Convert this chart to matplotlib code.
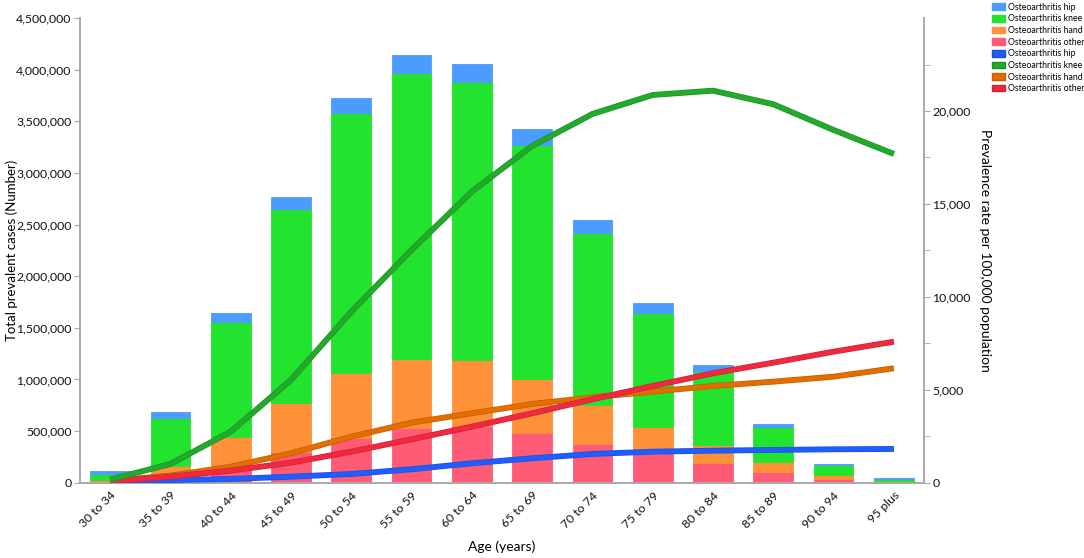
import matplotlib
matplotlib.use("Agg")
import matplotlib.pyplot as plt
import matplotlib.patheffects as pe
from matplotlib.patches import Patch
from matplotlib.ticker import FuncFormatter, MultipleLocator
import numpy as np

plt.rcParams['font.family'] = ['Lato', 'DejaVu Sans']

ages = ['30 to 34', '35 to 39', '40 to 44', '45 to 49', '50 to 54', '55 to 59', '60 to 64',
        '65 to 69', '70 to 74', '75 to 79', '80 to 84', '85 to 89', '90 to 94', '95 plus']

# total prevalent cases (stacked bars)
cases_other = [10000, 50000, 165000, 300000, 436000, 527000, 549000, 479000, 375000, 290000, 188000, 104000, 39000, 9000]
cases_hand = [20000, 115000, 275000, 469000, 624000, 671000, 640000, 526000, 378000, 247000, 177000, 94000, 33000, 7000]
cases_knee = [55000, 459000, 1120000, 1880000, 2519000, 2774000, 2690000, 2264000, 1669000, 1110000, 717000, 345000, 97000, 24000]
cases_hip = [25000, 58000, 81000, 116000, 145000, 172000, 177000, 158000, 123000, 91000, 58000, 26000, 12000, 3000]

# prevalence rate per 100,000 (lines)
rate_hip = [30, 145, 200, 323, 468, 721, 1044, 1313, 1545, 1668, 1722, 1760, 1797, 1813]
rate_knee = [170, 1006, 2745, 5527, 9203, 12524, 15662, 18121, 19843, 20866, 21098, 20366, 18982, 17690]
rate_hand = [100, 380, 861, 1582, 2476, 3229, 3735, 4235, 4594, 4900, 5204, 5436, 5705, 6157]
rate_other = [80, 323, 646, 1076, 1668, 2335, 3014, 3735, 4488, 5204, 5888, 6458, 7050, 7589]

bar_colors = {'hip': '#4c9bff', 'knee': '#22e32e', 'hand': '#ff9139', 'other': '#ff5b76'}
line_colors = {'hip': '#1f5dff', 'knee': '#22aa2a', 'hand': '#e26e00', 'other': '#f0293f'}
line_edges = {'hip': '#1a4fd6', 'knee': '#1c8f23', 'hand': '#c25e00', 'other': '#cc2236'}

fig = plt.figure(figsize=(10.84, 5.58), dpi=100)
ax = fig.add_axes([0.0738, 0.135, 0.7786, 0.8325])
ax2 = ax.twinx()

x = np.arange(len(ages))
w = 0.66
bottom = np.zeros(len(ages))
for key, vals in [('other', cases_other), ('hand', cases_hand), ('knee', cases_knee), ('hip', cases_hip)]:
    ax.bar(x, vals, w, bottom=bottom, color=bar_colors[key], edgecolor=bar_colors[key], linewidth=0.6, zorder=2)
    bottom += np.array(vals)

for key, vals in [('hip', rate_hip), ('hand', rate_hand), ('other', rate_other), ('knee', rate_knee)]:
    ax2.plot(x, vals, color=line_colors[key], lw=3.2, solid_capstyle='butt', zorder=3,
             path_effects=[pe.Stroke(linewidth=4.2, foreground=line_edges[key]), pe.Normal()])

ax.set_xlim(-0.5, 13.5)
ax.set_ylim(0, 4500000)
ax2.set_ylim(0, 25000)
ax.yaxis.set_major_locator(MultipleLocator(500000))
ax.yaxis.set_major_formatter(FuncFormatter(lambda v, p: f'{int(v):,}'))
ax2.set_yticks([0, 5000, 10000, 15000, 20000])
ax2.set_yticks([2500, 7500, 12500, 17500, 22500], minor=True)
ax2.yaxis.set_major_formatter(FuncFormatter(lambda v, p: f'{int(v):,}'))

ax.set_xticks(x)
ax.set_xticklabels(ages, rotation=45, ha='right', rotation_mode='anchor', fontsize=8.8)

grey = '#a8a8a8'
for a in (ax, ax2):
    a.spines['top'].set_visible(False)
    for s in ('left', 'right', 'bottom'):
        a.spines[s].set_color(grey)
        a.spines[s].set_linewidth(1.2)
    a.tick_params(colors=grey, labelcolor='#111111', labelsize=8.8, length=4, pad=2)
    a.tick_params(which='minor', colors=grey, length=4)
ax.tick_params(axis='x', length=0, pad=5)

fig.text(0.011, 0.552, 'Total prevalent cases (Number)', fontsize=9.5, rotation=90, ha='center', va='center')
fig.text(0.9087, 0.552, 'Prevalence rate per 100,000 population', fontsize=10, rotation=-90, ha='center', va='center')
fig.text(0.463, 0.02, 'Age (years)', fontsize=10, ha='center', va='center')

handles = [Patch(facecolor=bar_colors[k], edgecolor=bar_colors[k]) for k in ('hip', 'knee', 'hand', 'other')]
handles += [Patch(facecolor=line_colors[k], edgecolor=line_edges[k]) for k in ('hip', 'knee', 'hand', 'other')]
labels = ['Osteoarthritis hip', 'Osteoarthritis knee', 'Osteoarthritis hand', 'Osteoarthritis other'] * 2
fig.legend(handles, labels, loc='upper left', bbox_to_anchor=(0.915, 0.995), frameon=False,
           fontsize=6.3, handlelength=1.5, handleheight=0.8, handletextpad=0.4, labelspacing=0.3,
           borderaxespad=0, borderpad=0)

fig.savefig('out.png', dpi=100)
